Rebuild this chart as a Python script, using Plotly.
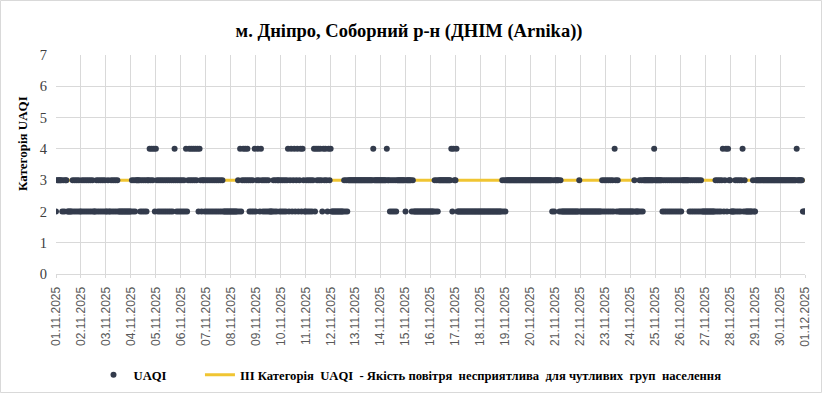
import plotly.graph_objects as go
import pandas as pd

# ---------------- data ----------------
chart_title = "м. Дніпро, Соборний р-н (ДНІМ (Arnika))"
y_title = "Категорія UAQI"
series_name = "UAQI"
threshold_name = "ІІІ Категорія  UAQI  - Якість повітря  несприятлива  для чутливих  груп  населення"

start_date = "2025-11-01 00:00"
end_date = "2025-12-01 00:00"
category_iii = 3

# hourly UAQI category, one 24-char string per day (hour 00..23)
uaqi_by_day = [
    "233333232332222232323232",  # 01.11
    "232323232323222323232323",  # 02.11
    "223223232323222222222222",  # 03.11
    "232323333232323233434342",  # 04.11
    "432323232323232323432323",  # 05.11
    "232324234343434342432332",  # 06.11
    "323232323232323232222222",  # 07.11
    "222222232423434343232324",  # 08.11
    "234324323232322223232332",  # 09.11
    "323232342342342342342432",  # 10.11
    "232323234243434324343243",  # 11.11
    "422222222222232323333333",  # 12.11
    "333333333333333334333333",  # 13.11
    "333333433232323233333333",  # 14.11
    "233333232222222222222222",  # 15.11
    "222232323333333333334243",  # 16.11
    "342222222222222222222222",  # 17.11
    "222222222222222222222323",  # 18.11
    "233333333333333333333333",  # 19.11
    "333333333333333333333232",  # 20.11
    "333323222222222222222223",  # 21.11
    "222222222222222222222323",  # 22.11
    "232323232432322222222222",  # 23.11
    "222232222323233333333334",  # 24.11
    "333333323232323232323232",  # 25.11
    "323333333232323232323222",  # 26.11
    "222222222232323234234243",  # 27.11
    "322223232323423222222232",  # 28.11
    "233333333333333333333333",  # 29.11
    "333333333333333343333322",  # 30.11
]
uaqi_last = 2  # 01.12 00:00

# ---------------- build ----------------
for i, s in enumerate(uaqi_by_day):
    assert len(s) == 24, (i, len(s))

values = [int(c) for s in uaqi_by_day for c in s] + [uaqi_last]
times = pd.date_range(start_date, periods=len(values), freq="h")

serif = "Liberation Serif, Times New Roman, serif"
sans = "Liberation Sans, Arial, sans-serif"
grid = "#d9d9d9"

W, H = 823, 394
ml, mr, mt, mb = 56, 18, 55, 120
pw, ph = W - ml - mr, H - mt - mb

fig = go.Figure()
fig.add_trace(go.Scatter(
    x=[start_date, end_date], y=[category_iii, category_iii],
    mode="lines", name=threshold_name,
    line=dict(color="#f0c532", width=3),
    legendrank=2, hoverinfo="skip",
))
fig.add_trace(go.Scatter(
    x=times, y=values, mode="markers",
    name=series_name + "\u00a0" * 9,
    marker=dict(color="#333b4c", size=6, line=dict(width=0)),
    legendrank=1,
))

fig.update_layout(
    width=W, height=H,
    margin=dict(l=ml, r=mr, t=mt, b=mb, autoexpand=False),
    paper_bgcolor="white", plot_bgcolor="white",
    font=dict(family=serif, color="#000000"),
    title=dict(text="<b>" + chart_title + "</b>", x=409 / W, xanchor="center",
               y=1 - 31 / H, yanchor="middle", yref="container",
               font=dict(family=serif, size=18.5, color="#000000")),
    showlegend=True,
    legend=dict(orientation="h", x=(410 - ml) / pw, xanchor="center",
                y=-(375 - (H - mb)) / ph, yanchor="middle",
                font=dict(family=serif, size=12.65, color="#000000", weight="bold"),
                itemwidth=30, traceorder="normal"),
    annotations=[dict(text="<b>" + y_title + "</b>", textangle=-90,
                      xref="paper", yref="paper",
                      x=(22 - ml) / pw, y=(H - mb - 144) / ph,
                      xanchor="center", yanchor="middle", showarrow=False,
                      font=dict(family=serif, size=13, color="#000000"))],
    shapes=[dict(type="rect", xref="paper", yref="paper",
                 x0=(-ml + 0.5) / pw, x1=1 + (mr - 1.5) / pw,
                 y0=(-mb + 1.5) / ph, y1=1 + (mt - 0.5) / ph,
                 line=dict(color=grid, width=1), layer="below")],
)
fig.update_xaxes(
    type="date", range=[start_date, end_date], automargin=False,
    dtick=86400000, tick0=start_date, tickformat="%d.%m.%Y", tickangle=-90,
    showgrid=True, gridcolor=grid, gridwidth=1,
    ticks="outside", ticklen=3, tickcolor=grid,
    showline=True, linecolor=grid, linewidth=1,
    ticklabelstandoff=4,
    tickfont=dict(family=sans, size=12, color="#595959"),
    zeroline=False,
)
fig.update_yaxes(
    range=[0, 7], dtick=1, tick0=0, automargin=False,
    showgrid=True, gridcolor=grid, gridwidth=1,
    zeroline=False, showline=False,
    ticklabelstandoff=8,
    tickfont=dict(family=serif, size=14.5, color="#404040"),
)

fig.write_html("out.html",
               config={"displayModeBar": False},
               post_script="document.body.style.margin='0';document.body.style.overflow='hidden';")
